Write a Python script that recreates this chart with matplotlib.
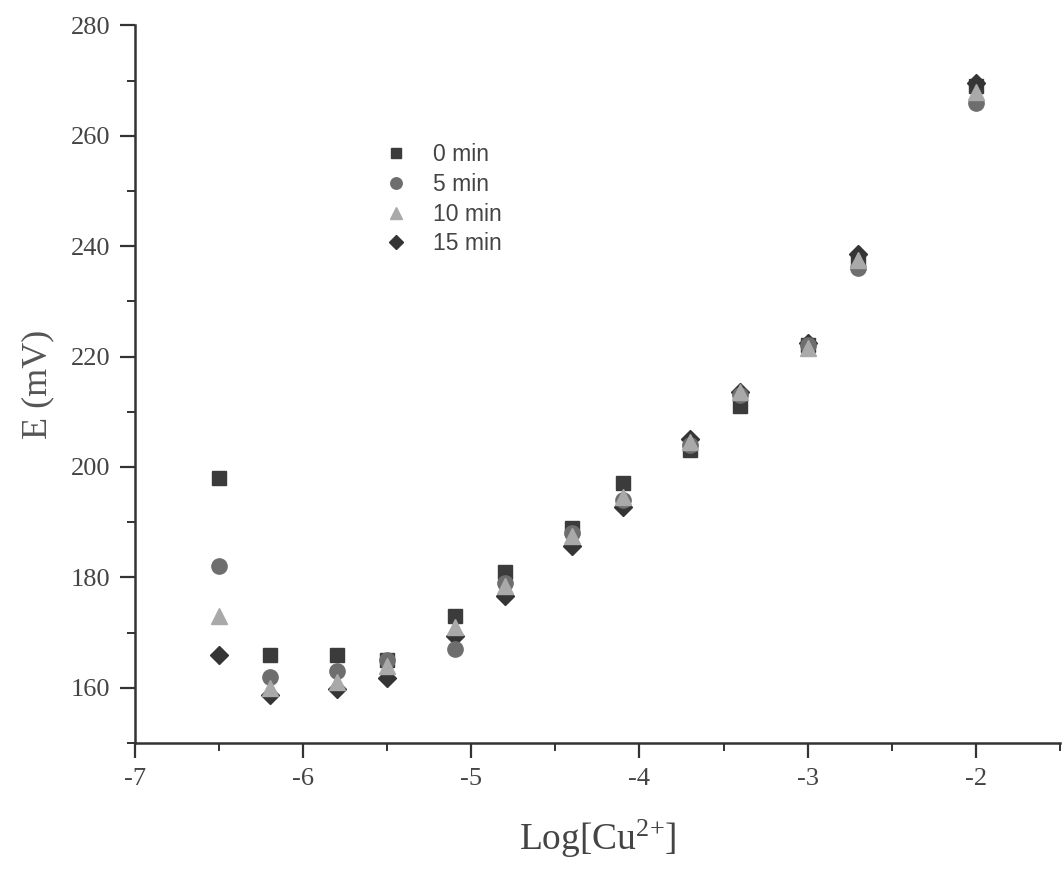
import matplotlib
matplotlib.use("Agg")
import matplotlib.pyplot as plt
from matplotlib.ticker import MultipleLocator

plt.rcParams["axes.unicode_minus"] = False
plt.rcParams["mathtext.fontset"] = "custom"
plt.rcParams["mathtext.rm"] = "Liberation Serif"
plt.rcParams["mathtext.it"] = "Liberation Serif"
plt.rcParams["mathtext.bf"] = "Liberation Serif"

log_cu = [-6.5, -6.2, -5.8, -5.5, -5.1, -4.8, -4.4, -4.1, -3.7, -3.4, -3.0, -2.7, -2.0]

e_0min = [198, 166, 166, 165, 173, 181, 189, 197, 203, 211, 222, 237, 269]
e_5min = [182, 162, 163, 165, 167, 179, 188, 194, 204, 213, 222, 236, 266]
e_10min = [173, 160, 161, 164, 171, 178.5, 187.5, 194.5, 204.5, 213.5, 221.5, 237.5, 268]
e_15min = [166, 158.7, 159.7, 161.7, 169.3, 176.6, 185.7, 192.7, 205, 213.5, 222.5, 238.5, 269.5]

series = [
    ("0 min", e_0min, "s", "#3b3b3b", 1),
    ("5 min", e_5min, "o", "#6e6e6e", 3),
    ("10 min", e_10min, "^", "#a9a9a9", 4),
    ("15 min", e_15min, "D", "#353535", 2),
]

fig = plt.figure(figsize=(10.64, 8.73), dpi=100)
ax = fig.add_axes([0.127, 0.149, 0.869, 0.822])

sizes = {"s": 10, "o": 11, "^": 11, "D": 9.5}
for label, vals, mk, col, z in series:
    ax.plot(log_cu, vals, linestyle="none", marker=mk, markersize=sizes[mk],
            color=col, markeredgecolor=col, label=label, zorder=z + 2)

ax.set_xlim(-7, -1.5)
ax.set_ylim(150, 280)
ax.xaxis.set_major_locator(MultipleLocator(1))
ax.xaxis.set_minor_locator(MultipleLocator(0.5))
ax.yaxis.set_minor_locator(MultipleLocator(10))
ax.set_yticks([160, 180, 200, 220, 240, 260, 280])

for side in ("top", "right"):
    ax.spines[side].set_visible(False)
for side in ("left", "bottom"):
    ax.spines[side].set_color("#333333")
    ax.spines[side].set_linewidth(1.8)

ax.tick_params(which="major", direction="out", length=11, width=1.6, color="#333333",
               labelsize=19, labelcolor="#444444", pad=7)
ax.tick_params(which="minor", direction="out", length=6, width=1.4, color="#333333")
for lbl in ax.get_xticklabels() + ax.get_yticklabels():
    lbl.set_fontfamily("Liberation Serif")

ax.set_xlabel(r"$\mathrm{Log[Cu^{2{+}}]}$", fontsize=27, color="#444444", labelpad=20)
ax.set_ylabel("E (mV)", fontsize=26, family="Liberation Serif", color="#555555", labelpad=12)

leg = ax.legend(loc="upper left", bbox_to_anchor=(0.342, 0.86), bbox_transform=fig.transFigure,
                frameon=False, prop={"family": "Liberation Sans", "size": 16.5},
                handletextpad=1.1, labelspacing=0.3, handlelength=1.0, markerscale=0.75)
for t in leg.get_texts():
    t.set_color("#444444")

fig.savefig("out.png", dpi=100, facecolor="white")
